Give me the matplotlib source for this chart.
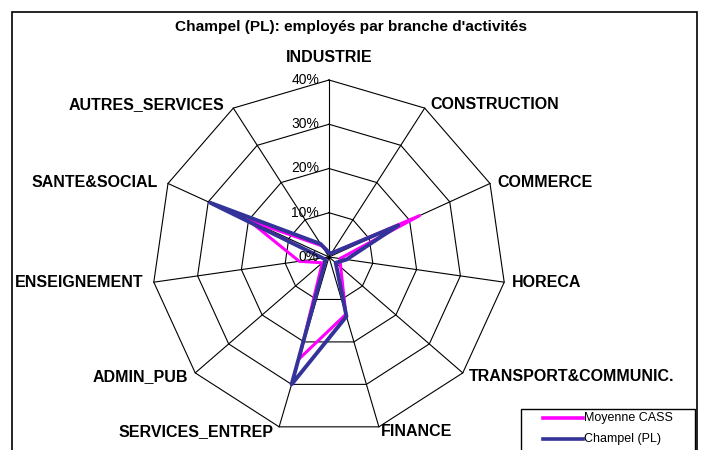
import numpy as np
import matplotlib.pyplot as plt
from matplotlib.patches import Rectangle
from matplotlib.lines import Line2D

plt.rcParams['font.family'] = ['Liberation Sans', 'DejaVu Sans']

categories = ['INDUSTRIE', 'CONSTRUCTION', 'COMMERCE', 'HORECA', 'TRANSPORT&COMMUNIC.',
              'FINANCE', 'SERVICES_ENTREP', 'ADMIN_PUB', 'ENSEIGNEMENT', 'SANTE&SOCIAL',
              'AUTRES_SERVICES']
moyenne_cass = [1.0, 1.0, 22.5, 2.5, 3.5, 13.5, 24.0, 2.0, 6.8, 20.0, 3.0]
champel = [1.0, 1.0, 17.2, 4.0, 2.0, 14.0, 30.0, 1.0, 1.5, 29.5, 3.5]
ring_values = [0, 10, 20, 30, 40]
ring_labels = ['0%', '10%', '20%', '30%', '40%']
series_names = ['Moyenne CASS', 'Champel (PL)']
series_colors = ['#ff00ff', '#333399']

W, H = 704, 450
fig = plt.figure(figsize=(W / 100, H / 100), dpi=100)

# outer frame
fig.add_artist(Rectangle((12 / W, -0.05), 685 / W, 1.05 - 12 / H, transform=fig.transFigure,
                         fill=False, edgecolor='black', lw=1.2))
fig.text(351 / W, 1 - 27 / H, "Champel (PL): employés par branche d'activités",
         ha='center', va='center', fontsize=11.1, fontweight='bold')

cx, cy, R = 329, 257, 177
ax = fig.add_axes([(cx - R) / W, (H - cy - R) / H, 2 * R / W, 2 * R / H], projection='polar')
ax.set_theta_zero_location('N')
ax.set_theta_direction(-1)
ax.set_ylim(0, 40)
ax.set_axis_off()

n = len(categories)
angles = np.arange(n) * 2 * np.pi / n
closed = np.append(angles, angles[0])

for r in ring_values[1:]:
    ax.plot(closed, [r] * (n + 1), color='black', lw=0.8, clip_on=False)
for a in angles:
    ax.plot([a, a], [0, ring_values[-1]], color='black', lw=0.8, clip_on=False)

for r, lab in zip(ring_values, ring_labels):
    ax.annotate(lab, xy=(0, r), xytext=(-10, 0), textcoords='offset pixels',
                ha='right', va='center', fontsize=10, annotation_clip=False)

ax.plot(closed, moyenne_cass + moyenne_cass[:1], color=series_colors[0], lw=2.2, clip_on=False)
ax.plot(closed, champel + champel[:1], color=series_colors[1], lw=2.8, clip_on=False)

# label offsets from outer vertex (pixels), alignment
offsets = [(0, 22, 'center'), (6, 4, 'left'), (7, 1, 'left'), (8, 0, 'left'),
           (6, -4, 'left'), (2, -5, 'left'), (-6, -5, 'right'), (-7, -4, 'right'),
           (-10, 0, 'right'), (-10, 1, 'right'), (-9, 4, 'right')]
for a, lab, (dx, dy, ha) in zip(angles, categories, offsets):
    ax.annotate(lab, xy=(a, ring_values[-1]), xytext=(dx, dy), textcoords='offset pixels',
                ha=ha, va='center', fontsize=11.5, fontweight='bold', annotation_clip=False)

# legend
lx0, ly0 = 521, 409
fig.add_artist(Rectangle((lx0 / W, -0.05), (695 - lx0) / W, 0.05 + (H - ly0) / H,
                         transform=fig.transFigure, fill=False, edgecolor='black', lw=1.0))
for i, (name, col) in enumerate(zip(series_names, series_colors)):
    yy = 1 - (418 + 21 * i) / H
    fig.add_artist(Line2D([543 / W, 583 / W], [yy, yy], transform=fig.transFigure,
                          color=col, lw=2.6))
    fig.text(584 / W, yy, name, ha='left', va='center', fontsize=9)

fig.savefig('out.png', dpi=100)
